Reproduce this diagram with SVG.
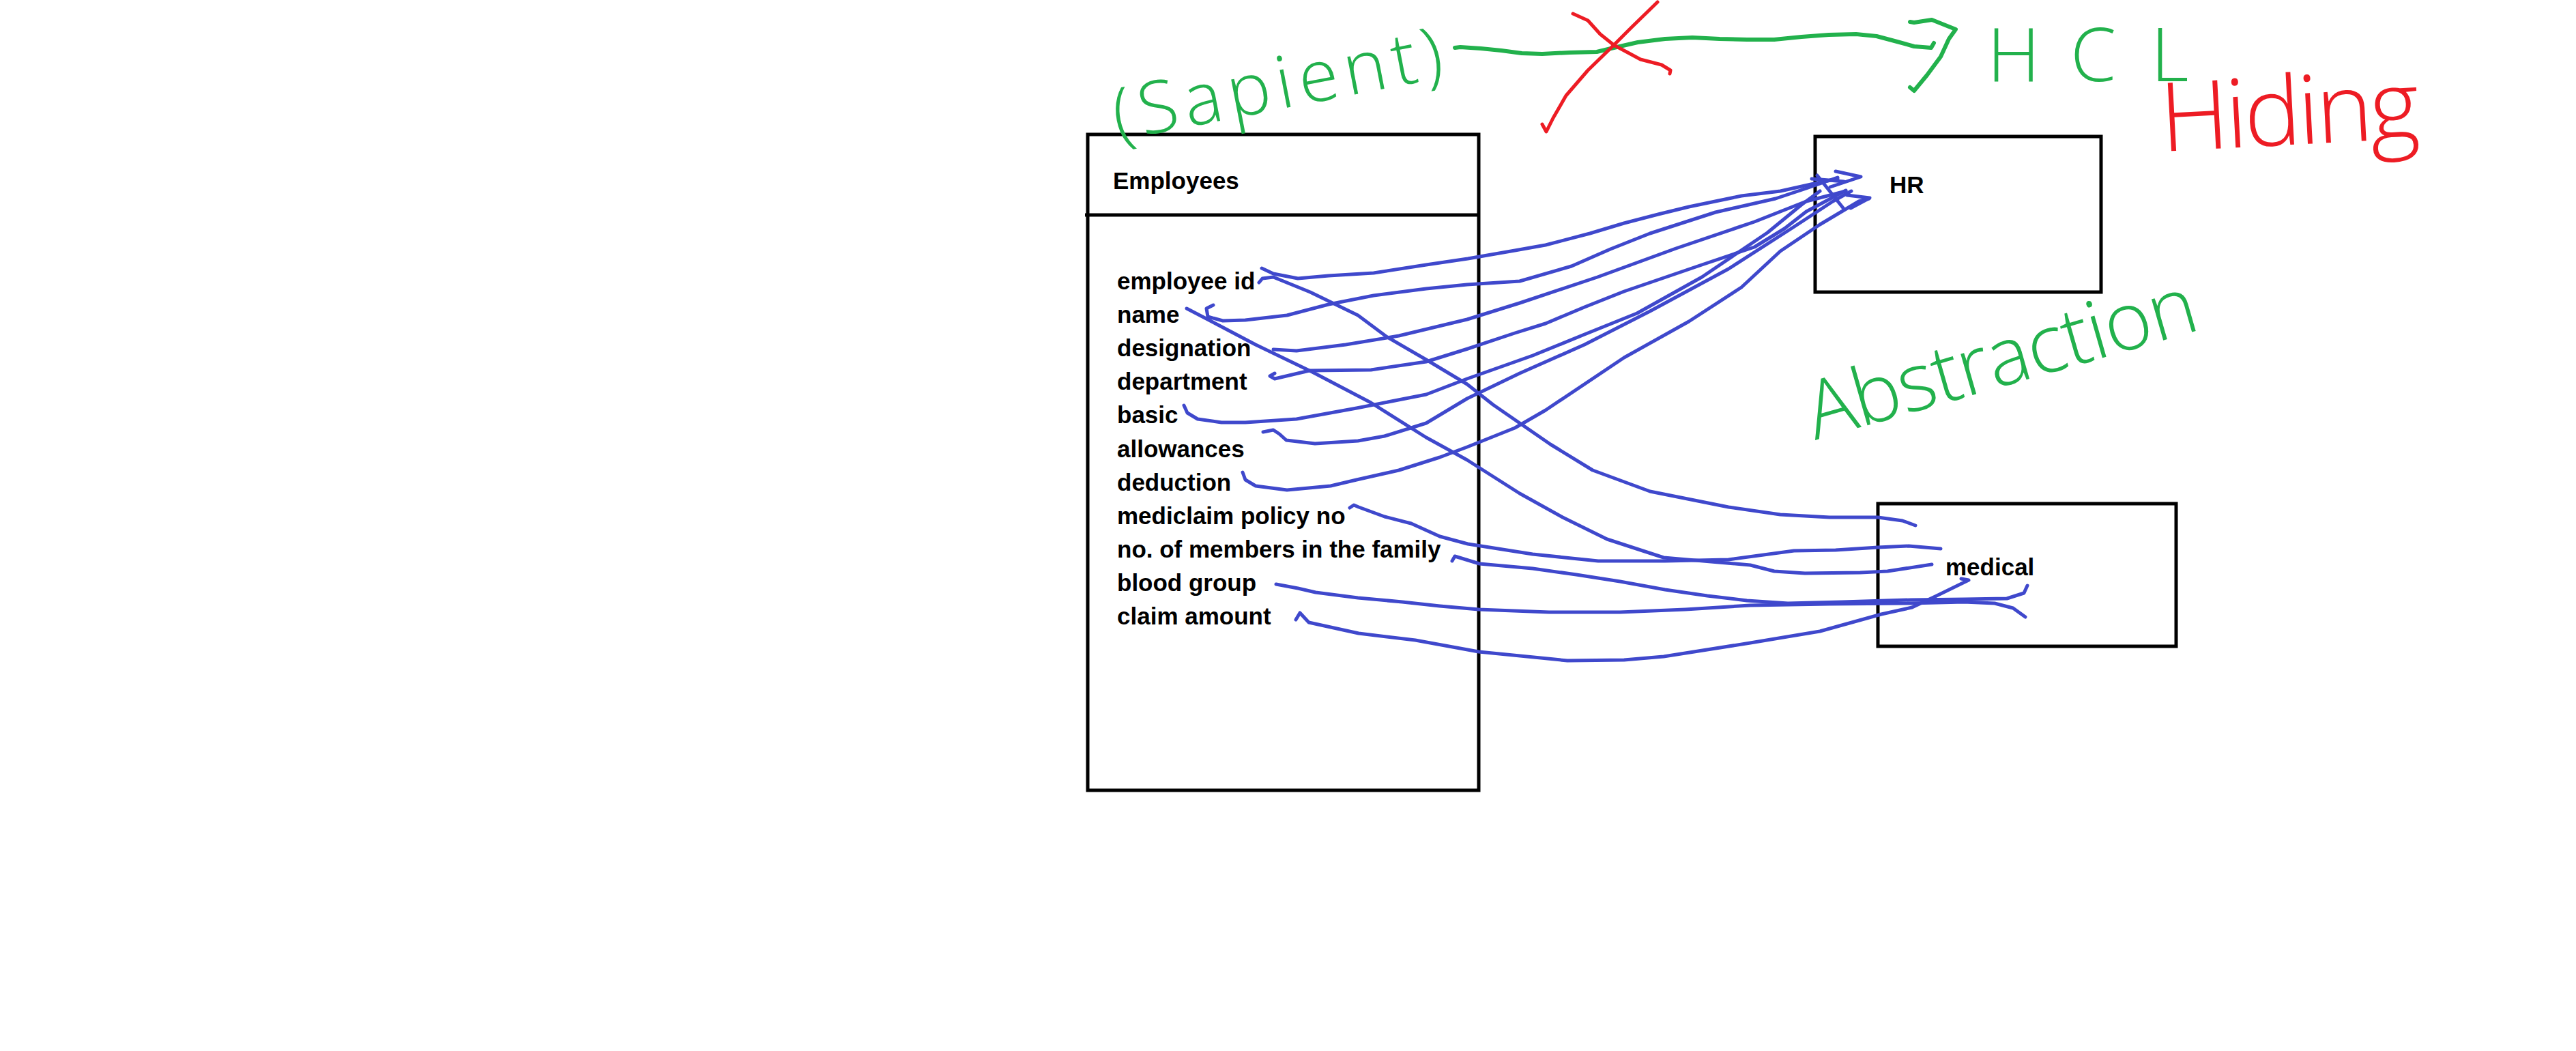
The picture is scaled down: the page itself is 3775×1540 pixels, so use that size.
<svg xmlns="http://www.w3.org/2000/svg" width="3775" height="1540" viewBox="0 0 3775 1540">
<style>
.box{fill:none;stroke:#000;stroke-width:5}
.lbl{font-family:"Liberation Sans",Arial,sans-serif;font-weight:bold;font-size:35px;fill:#000}
.ink{fill:none;stroke-linecap:round;stroke-linejoin:round}
.blue{stroke:#3F48CC;stroke-width:5}
.green{stroke:#22B14C;stroke-width:6}
.red{stroke:#ED1C24;stroke-width:5}
.hand{font-family:"Open Sans","Liberation Sans",sans-serif;font-weight:300}
</style>
<rect width="3775" height="1540" fill="#fff"/>

<g id="employees">
<rect class="box" x="1594" y="197" width="573" height="961"/>
<line x1="1590" y1="315" x2="2167" y2="315" stroke="#000" stroke-width="5"/>
<text class="lbl" x="1631" y="277" font-size="34">Employees</text>
<text class="lbl" x="1637" y="424">employee id</text>
<text class="lbl" x="1637" y="473">name</text>
<text class="lbl" x="1637" y="522">designation</text>
<text class="lbl" x="1637" y="571">department</text>
<text class="lbl" x="1637" y="620">basic</text>
<text class="lbl" x="1637" y="670">allowances</text>
<text class="lbl" x="1637" y="719">deduction</text>
<text class="lbl" x="1637" y="768">mediclaim policy no</text>
<text class="lbl" x="1637" y="817">no. of members in the family</text>
<text class="lbl" x="1637" y="866">blood group</text>
<text class="lbl" x="1637" y="915">claim amount</text>
</g>

<g id="hr">
<rect class="box" x="2660" y="200" width="419" height="228"/>
<text class="lbl" x="2769" y="283">HR</text>
</g>

<g id="medical">
<rect class="box" x="2752" y="738" width="437" height="209"/>
<text class="lbl" x="2851" y="843">medical</text>
</g>

<g id="connectors" class="ink blue">
<polyline points="1849,393 1866,401 1902,408 1947,404 2013,400 2090,388 2151,379 2220,367 2265,359 2330,342 2380,327 2430,314 2475,303 2552,287 2609,280 2663,268 2693,262"/>
<polyline points="1778,447 1768,452 1770,464 1792,470 1825,469 1886,462 1947,446 2013,433 2090,423 2150,417 2227,412 2303,390 2360,365 2418,342 2514,311 2602,291 2647,276 2693,260"/>
<polyline points="1866,512 1900,514 1972,505 2050,492 2150,468 2227,444 2341,406 2456,364 2571,325 2647,295 2705,280"/>
<polyline points="1868,547 1861,551 1868,555 1919,543 2009,542 2090,530 2151,511 2220,488 2265,474 2322,450 2380,427 2494,388 2571,362 2615,335 2647,310 2705,279"/>
<polyline points="1735,594 1740,605 1755,614 1790,619 1825,619 1900,614 1988,598 2090,578 2150,555 2246,521 2322,490 2399,459 2494,406 2590,341 2640,300 2667,280"/>
<polyline points="1851,633 1866,630 1875,636 1885,645 1927,650 1990,646 2029,639 2090,620 2150,584 2227,547 2322,505 2418,456 2533,394 2628,333 2686,295 2713,280"/>
<polyline points="1821,692 1825,703 1840,712 1886,718 1950,712 1988,703 2050,689 2110,670 2150,655 2220,627 2265,601 2380,524 2475,471 2552,421 2609,368 2667,329 2724,295 2739,291"/>
<polyline points="2690,251 2727,259 2682,274"/>
<polyline points="2707,286 2740,290 2712,305"/>
<polyline points="2655,262 2680,264 2702,266"/>
<polyline points="2663,257 2702,306"/>
<polyline points="1845,414 1850,408 1866,406 1920,428 1990,462 2033,494 2090,527 2150,563 2188,593 2272,651 2334,689 2418,720 2533,743 2609,754 2681,758 2752,758 2788,763 2807,770"/>
<polyline points="1739,452 1764,465 1840,505 1923,545 2009,590 2090,641 2150,674 2227,723 2290,758 2355,790 2438,817 2565,828 2600,837 2645,840 2726,839 2766,837 2831,827"/>
<polyline points="1978,744 1984,740 1991,743 2029,757 2068,767 2110,786 2151,797 2246,812 2342,822 2440,822 2533,820 2629,807 2690,806 2752,802 2797,800 2844,804"/>
<polyline points="2128,822 2132,815 2168,826 2246,833 2310,842 2374,852 2440,864 2502,873 2560,880 2620,884 2700,882 2800,879 2880,878 2941,877 2966,869 2971,858"/>
<polyline points="1870,856 1902,862 1928,868 1990,876 2055,882 2110,888 2167,893 2270,897 2374,897 2470,893 2565,887 2680,885 2800,884 2878,882 2923,884 2950,891 2968,904"/>
<polyline points="1899,908 1905,898 1918,912 1991,928 2074,938 2167,955 2297,968 2380,967 2438,962 2565,942 2667,925 2757,900 2802,890 2838,873 2885,850 2874,848"/>
</g>

<g id="annotations">
<text class="hand" transform="translate(1638,206) rotate(-11)" font-size="106" fill="#22B14C" textLength="490" lengthAdjust="spacing">(Sapient)</text>
<polyline class="ink green" points="2132,70 2140,69 2170,71 2200,74 2230,78 2260,79 2300,77 2340,76 2365,70 2400,62 2440,57 2480,55 2520,57 2560,58 2600,58 2640,54 2680,51 2720,50 2750,53 2780,61 2805,68 2830,70 2834,63"/>
<polyline class="ink green" points="2799,32 2805,33 2831,29 2866,43 2856,57 2844,83 2824,110 2805,133 2799,128"/>
<polyline class="ink red" points="2305,20 2327,30 2345,50 2365,66 2404,87 2435,95 2448,103 2447,108"/>
<polyline class="ink red" points="2429,3 2391,40 2365,66 2327,103 2295,140 2276,173 2266,193 2260,182"/>
<text class="hand" x="2912 3034 3152" y="119" font-size="108" fill="#22B14C">HCL</text>
<text class="hand" transform="translate(3168,222) rotate(-3)" font-size="140" fill="#ED1C24" textLength="380" lengthAdjust="spacing">Hiding</text>
<text class="hand" transform="translate(2660,645) rotate(-16)" font-size="118" fill="#22B14C" textLength="590" lengthAdjust="spacing">Abstraction</text>
</g>
</svg>
